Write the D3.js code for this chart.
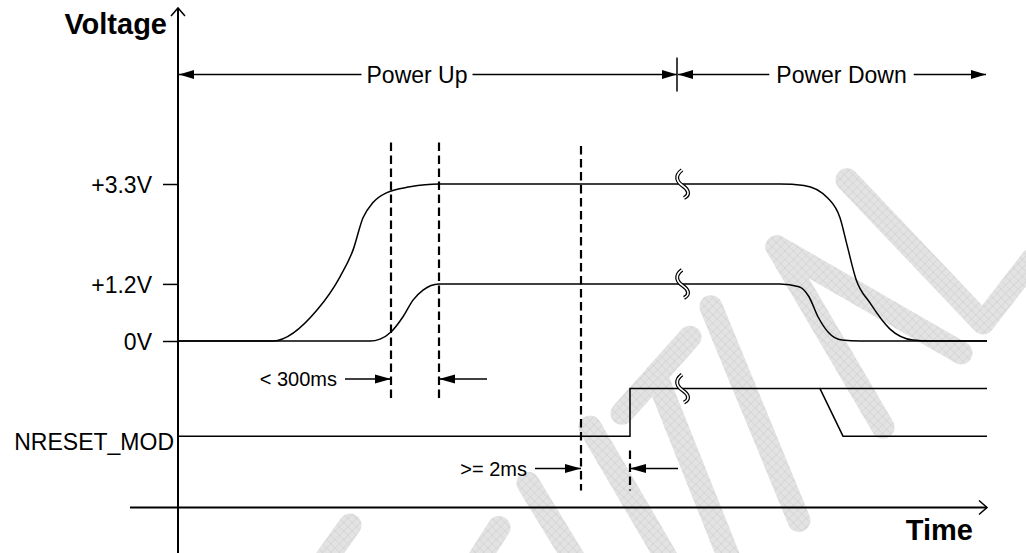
<!DOCTYPE html>
<html lang="en">
<head>
<meta charset="UTF-8">
<title>Power sequence</title>
<style>
  body { margin: 0; background: #fff; }
  svg { display: block; font-family: "Liberation Sans", Arial, sans-serif; }
</style>
</head>
<body>
<svg id="chart" width="1026" height="553"></svg>
<script src="https://cdn.jsdelivr.net/npm/d3@7/dist/d3.min.js"></script>
<script>
// time is in arbitrary units, levels in volts
const levelNames = ["+3.3V", "+1.2V", "0V"]
const levelValues = [3.3, 1.2, 0]

const rail33T = [0, 9.5, 13.9, 16.2, 17.5, 18.5, 19.5, 20.9, 23.2, 26.1, 60.2, 62.6, 65.0, 66.2, 66.9, 67.8, 69.2, 71.2, 73.5, 75.2, 80.9]
const rail33V = [0, 0, 0.65, 1.35, 1.91, 2.59, 2.91, 3.12, 3.24, 3.3, 3.3, 3.27, 3.0, 2.59, 2.02, 1.3, 0.8, 0.25, 0.02, 0, 0]

const rail12T = [0, 19.2, 20.2, 21.3, 22.5, 23.5, 24.5, 26.1, 60.2, 62.1, 63.1, 64.0, 65.0, 66.4, 68.2, 80.9]
const rail12V = [0, 0, 0.04, 0.19, 0.51, 0.86, 1.07, 1.2, 1.2, 1.14, 0.93, 0.51, 0.19, 0.02, 0, 0]

// NRESET_MOD drawn on the same axis, low = -2, high = -1
const nresetT = [0, 45.2, 45.2, 80.9]
const nresetV = [-2, -2, -1, -1]
const nresetAltT = [64.2, 66.5, 80.9]
const nresetAltV = [-1, -2, -2]

const markerT = [21.3, 26.1, 40.3, 45.2]
const markerTop = [4.17, 4.17, 4.1, -2.3]
const markerBottom = [-1.2, -1.2, -3.14, -3.14]

const phaseNames = ["Power Up", "Power Down"]
const phaseBounds = [0, 49.9, 80.9]
const phaseLabelT = [23.9, 66.35]

const gaugeNames = ["< 300ms", ">= 2ms"]
const gaugeFrom = [21.3, 40.3]
const gaugeTo = [26.1, 45.2]
const gaugeV = [-0.8, -2.68]

const breakT = 50.5
const breakV = [3.3, 1.2, -1]

// faint "CONFIDENTIAL" watermark strokes (t, v pairs)
const watermark = [
  [[66.9, 3.39], [80.5, 0.38], [85.4, 1.71]],
  [[59.9, 1.98], [78.3, -0.25]],
  [[59.9, 1.98], [70.5, -1.81]],
  [[53.3, 0.72], [62.1, -3.77]],
  [[51.2, 0.08], [44.4, -1.52]],
  [[47.8, -0.72], [55.2, -4.61]],
  [[41.2, -1.81], [49.0, -4.61]],
  [[35.0, -2.99], [39.7, -4.61]],
  [[32.1, -3.92], [30.0, -4.61]],
  [[17.2, -3.87], [14.7, -4.61]]
]

const svg = d3.select("#chart")
const x = d3.scaleLinear().domain([0, 81]).range([178, 988])
const y = d3.scaleLinear().domain([0, 3.3]).range([341, 184])

let defs = svg.append("defs")
let pat = defs.append("pattern").attr("id", "hatch")
  .attr("width", 6).attr("height", 6)
  .attr("patternUnits", "userSpaceOnUse")
  .attr("patternTransform", "rotate(45)")
pat.append("rect").attr("width", 6).attr("height", 6).attr("fill", "#e3e3e3")
pat.append("path").attr("d", "M0,0H6M0,0V6").attr("stroke", "#cdcdcd").attr("stroke-width", 1)

let line = d3.line().x(d => x(d[0])).y(d => y(d[1]))

svg.append("g").selectAll("path")
  .data(watermark)
  .enter()
  .append("path")
  .attr("d", line)
  .attr("fill", "none")
  .attr("stroke", "url(#hatch)")
  .attr("stroke-width", 23)
  .attr("stroke-linecap", "round")
  .attr("stroke-linejoin", "round")

function arrowHead(g, tipX, tipY, dir, len, half) {
  g.append("path")
    .attr("d", `M${tipX},${tipY}L${tipX - dir * len},${tipY - half}L${tipX - dir * len},${tipY + half}Z`)
    .attr("fill", "#000")
}

// axes
let axes = svg.append("g").attr("stroke", "#000").attr("fill", "none").attr("stroke-width", 2)
axes.append("line").attr("x1", x(0)).attr("x2", x(0)).attr("y1", y(7)).attr("y2", 553)
axes.append("path").attr("d", `M${x(0) - 7},${y(7) + 8}L${x(0)},${y(7)}L${x(0) + 7},${y(7) + 8}`).attr("stroke-width", 1.5)
axes.append("line").attr("x1", 130).attr("x2", x(80.9)).attr("y1", y(-3.5)).attr("y2", y(-3.5))
axes.append("path").attr("d", `M${x(80.9) - 8},${y(-3.5) - 7}L${x(80.9)},${y(-3.5)}L${x(80.9) - 8},${y(-3.5) + 7}`).attr("stroke-width", 1.5)

let yAxis = svg.append("g")
  .attr("transform", `translate(${x(0)},0)`)
  .call(d3.axisLeft(y).tickValues(levelValues).tickFormat((d, i) => levelNames[i]).tickSize(15).tickPadding(11))
yAxis.select(".domain").remove()
yAxis.selectAll("line").attr("stroke-width", 1.5)
yAxis.selectAll("text").attr("font-size", 23).attr("font-family", "Liberation Sans, Arial, sans-serif").attr("dy", "0.36em")

svg.append("text").text("NRESET_MOD")
  .attr("x", 174).attr("y", y(-2) + 14)
  .attr("text-anchor", "end").attr("font-size", 23)

svg.append("text").text("Voltage")
  .attr("x", 167).attr("y", 34)
  .attr("text-anchor", "end").attr("font-size", 29).attr("font-weight", "bold")

svg.append("text").text("Time")
  .attr("x", 973).attr("y", 540)
  .attr("text-anchor", "end").attr("font-size", 29).attr("font-weight", "bold")

// phase arrows
let phase = svg.append("g")
let rowY = y(5.6)
phase.append("line").attr("x1", x(phaseBounds[1])).attr("x2", x(phaseBounds[1]))
  .attr("y1", rowY - 17).attr("y2", rowY + 17).attr("stroke", "#000").attr("stroke-width", 1.5)
phaseNames.forEach((name, i) => {
  let t = phase.append("text").text(name)
    .attr("x", x(phaseLabelT[i])).attr("y", rowY + 8)
    .attr("text-anchor", "middle").attr("font-size", 23)
  let w = t.node().getComputedTextLength()
  let gap = i == 0 ? 5 : 7
  let left = x(phaseBounds[i]) + 1
  let right = x(phaseBounds[i + 1]) - (i == 0 ? 0 : 1)
  phase.append("line").attr("x1", left).attr("x2", x(phaseLabelT[i]) - w / 2 - gap)
    .attr("y1", rowY).attr("y2", rowY).attr("stroke", "#000").attr("stroke-width", 1.5)
  phase.append("line").attr("x1", x(phaseLabelT[i]) + w / 2 + gap).attr("x2", right)
    .attr("y1", rowY).attr("y2", rowY).attr("stroke", "#000").attr("stroke-width", 1.5)
  arrowHead(phase, left, rowY, -1, 15, 4.5)
  arrowHead(phase, right, rowY, 1, 15, 4.5)
})

// dashed markers
svg.append("g").selectAll("line")
  .data(markerT)
  .enter()
  .append("line")
  .attr("x1", d => x(d)).attr("x2", d => x(d))
  .attr("y1", (d, i) => y(markerTop[i]))
  .attr("y2", (d, i) => y(markerBottom[i]))
  .attr("stroke", "#000").attr("stroke-width", 2.2).attr("stroke-dasharray", "8.5,4.5")

// timing gauges
let gauge = svg.append("g")
gaugeNames.forEach((name, i) => {
  let gy = y(gaugeV[i])
  let a = x(gaugeFrom[i]), b = x(gaugeTo[i])
  gauge.append("line").attr("x1", a - 46).attr("x2", a).attr("y1", gy).attr("y2", gy).attr("stroke", "#000").attr("stroke-width", 1.5)
  gauge.append("line").attr("x1", b).attr("x2", b + 48).attr("y1", gy).attr("y2", gy).attr("stroke", "#000").attr("stroke-width", 1.5)
  arrowHead(gauge, a, gy, 1, 16, 4.5)
  arrowHead(gauge, b, gy, -1, 16, 4.5)
  gauge.append("text").text(name)
    .attr("x", a - 54).attr("y", gy + 7)
    .attr("text-anchor", "end").attr("font-size", 20)
})

// signals
let smooth = d3.line().x(d => x(d[0])).y(d => y(d[1])).curve(d3.curveMonotoneX)
let signals = svg.append("g").attr("fill", "none").attr("stroke", "#000").attr("stroke-width", 1.5)
signals.append("path").attr("d", smooth(rail33T.map((t, i) => [t, rail33V[i]])))
signals.append("path").attr("d", smooth(rail12T.map((t, i) => [t, rail12V[i]])))
signals.append("path").attr("d", line(nresetT.map((t, i) => [t, nresetV[i]])))
signals.append("path").attr("d", line(nresetAltT.map((t, i) => [t, nresetAltV[i]])))

// break marks
function breakPath(cx, cy) {
  return `M${cx - 1},${cy - 14}C${cx - 9},${cy - 8} ${cx - 6},${cy - 2} ${cx},${cy + 2}C${cx + 6},${cy + 6} ${cx + 7},${cy + 11} ${cx + 1},${cy + 14}`
}
let breaks = svg.append("g").attr("fill", "none")
breakV.forEach(v => {
  breaks.append("path").attr("d", breakPath(x(breakT), y(v))).attr("stroke", "#000").attr("stroke-width", 4)
  breaks.append("path").attr("d", breakPath(x(breakT), y(v))).attr("stroke", "#fff").attr("stroke-width", 1.6)
})
</script>
</body>
</html>
